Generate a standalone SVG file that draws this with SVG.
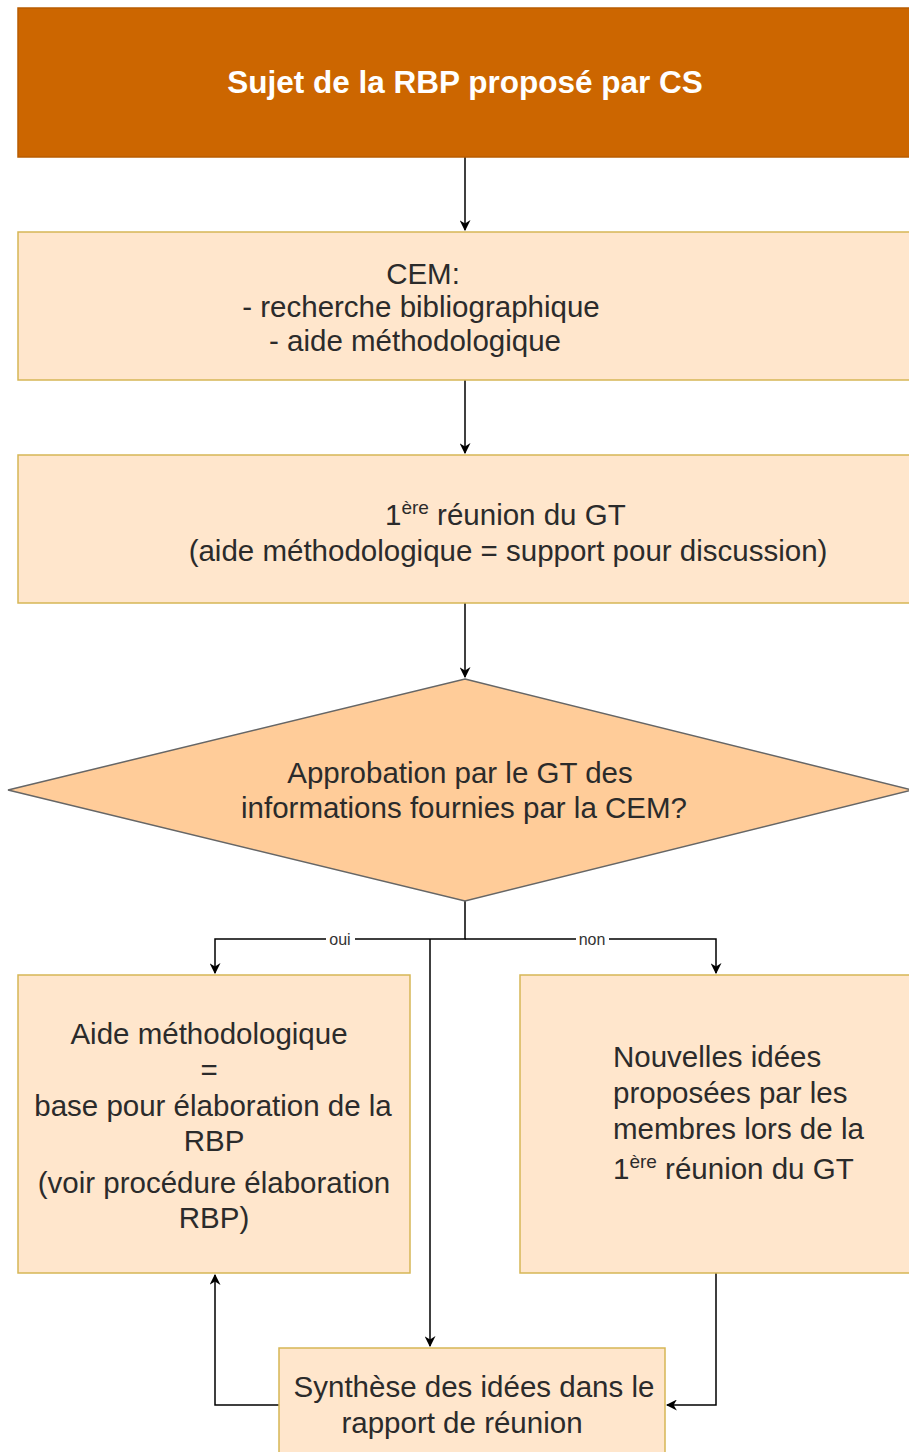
<svg xmlns="http://www.w3.org/2000/svg" width="909" height="1452" viewBox="0 0 909 1452">
<defs>
<marker id="arr" viewBox="0 0 10 10" refX="9" refY="5" markerWidth="11" markerHeight="11" markerUnits="userSpaceOnUse" orient="auto">
<path d="M0,0 L10,5 L0,10 L3,5 Z" fill="#000"/>
</marker>
<style>
.box{fill:#FFE6CC;stroke:#D6B656;stroke-width:1.5}
.t{font-family:"Liberation Sans",Arial,sans-serif;font-size:29.5px;fill:#2b2b2b;text-anchor:middle}
.l{text-anchor:start}
.sup{font-size:19px}
.c{fill:none;stroke:#000;stroke-width:1.5}
.lbl{font-family:"Liberation Sans",Arial,sans-serif;font-size:16px;fill:#333;text-anchor:middle}
</style>
</defs>
<rect width="909" height="1452" fill="#fff"/>
<g id="connectors">
<path class="c" d="M465,157 L465,230" marker-end="url(#arr)"/>
<path class="c" d="M465,380 L465,453" marker-end="url(#arr)"/>
<path class="c" d="M465,603 L465,677" marker-end="url(#arr)"/>
<path class="c" d="M465,901 L465,939 L215,939 L215,973" marker-end="url(#arr)"/>
<path class="c" d="M465,939 L716,939 L716,973" marker-end="url(#arr)"/>
<path class="c" d="M430,939 L430,1346" marker-end="url(#arr)"/>
<path class="c" d="M279,1405 L215,1405 L215,1275" marker-end="url(#arr)"/>
<path class="c" d="M716,1273 L716,1405 L667,1405" marker-end="url(#arr)"/>
<rect x="326" y="930" width="29" height="18" fill="#fff"/>
<text class="lbl" x="340" y="945">oui</text>
<rect x="576" y="930" width="33" height="18" fill="#fff"/>
<text class="lbl" x="592" y="945">non</text>
</g>
<g id="n1">
<rect x="18" y="8" width="894" height="149" fill="#CC6600" stroke="#B85C00" stroke-width="1.5"/>
<text x="465" y="93" font-family="Liberation Sans,Arial,sans-serif" font-size="31.5" font-weight="bold" fill="#fff" text-anchor="middle">Sujet de la RBP proposé par CS</text>
</g>
<g id="n2">
<rect class="box" x="18" y="232" width="894" height="148"/>
<text class="t" x="423" y="284">CEM:</text>
<text class="t" x="421" y="317">- recherche bibliographique</text>
<text class="t" x="415" y="351">- aide méthodologique</text>
</g>
<g id="n3">
<rect class="box" x="18" y="455" width="894" height="148"/>
<text class="t l" x="385" y="525">1<tspan class="sup" dy="-11">ère</tspan><tspan dy="11"> réunion du GT</tspan></text>
<text class="t" x="508" y="561">(aide méthodologique = support pour discussion)</text>
</g>
<g id="n4">
<polygon points="465,679 912,790 465,901 8,790" fill="#FFCC99" stroke="#666" stroke-width="1.5"/>
<text class="t" x="460" y="783">Approbation par le GT des</text>
<text class="t" x="464" y="818">informations fournies par la CEM?</text>
</g>
<g id="n5">
<rect class="box" x="18" y="975" width="392" height="298"/>
<text class="t" x="209" y="1044">Aide méthodologique</text>
<text class="t" x="209" y="1080">=</text>
<text class="t" x="213" y="1116">base pour élaboration de la</text>
<text class="t" x="214" y="1151">RBP</text>
<text class="t" x="214" y="1193">(voir procédure élaboration</text>
<text class="t" x="214" y="1228">RBP)</text>
</g>
<g id="n6">
<rect class="box" x="520" y="975" width="392" height="298"/>
<text class="t l" x="613" y="1067">Nouvelles idées</text>
<text class="t l" x="613" y="1103">proposées par les</text>
<text class="t l" x="613" y="1139">membres lors de la</text>
<text class="t l" x="613" y="1179">1<tspan class="sup" dy="-11">ère</tspan><tspan dy="11"> réunion du GT</tspan></text>
</g>
<g id="n7">
<rect class="box" x="279" y="1348" width="386" height="110"/>
<text class="t" x="474" y="1397">Synthèse des idées dans le</text>
<text class="t" x="462" y="1433">rapport de réunion</text>
</g>
</svg>
